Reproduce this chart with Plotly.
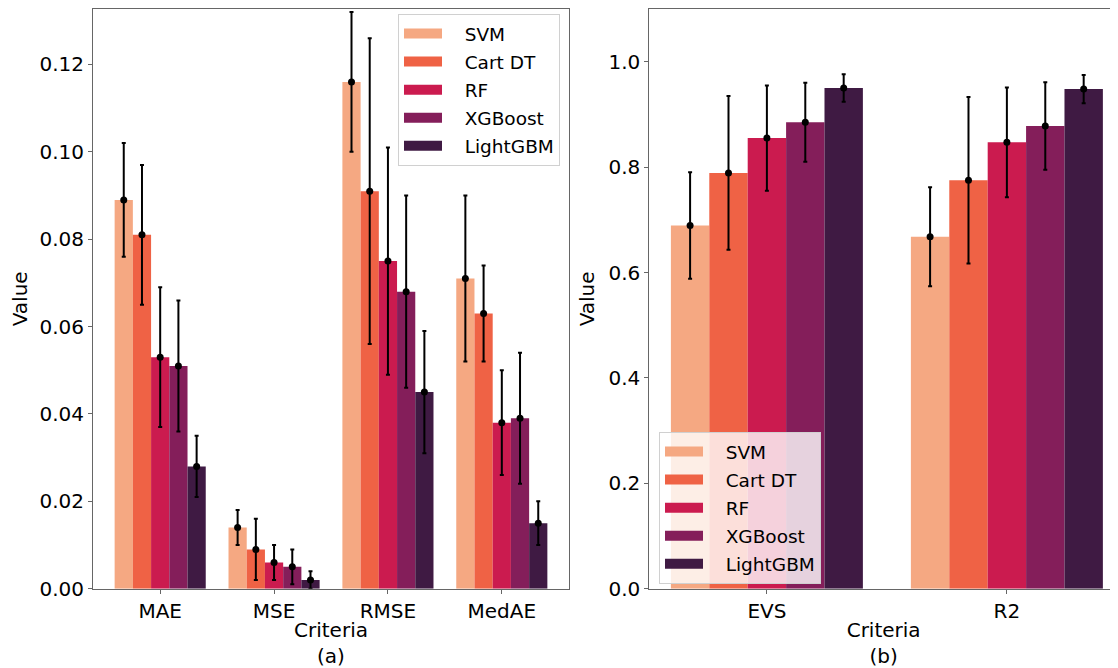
import plotly.graph_objects as go

# ---------------- data ----------------
models = ["SVM", "Cart DT", "RF", "XGBoost", "LightGBM"]
colors = ["#F5A882", "#EF6245", "#CB1B4F", "#841E5A", "#3F1A43"]

criteria_a = ["MAE", "MSE", "RMSE", "MedAE"]
svm_a = [0.089, 0.014, 0.116, 0.071]
cart_a = [0.081, 0.009, 0.091, 0.063]
rf_a = [0.053, 0.006, 0.075, 0.038]
xgb_a = [0.051, 0.005, 0.068, 0.039]
lgbm_a = [0.028, 0.002, 0.045, 0.015]
svm_a_err = [0.013, 0.004, 0.016, 0.019]
cart_a_err = [0.016, 0.007, 0.035, 0.011]
rf_a_err = [0.016, 0.004, 0.026, 0.012]
xgb_a_err = [0.015, 0.004, 0.022, 0.015]
lgbm_a_err = [0.007, 0.002, 0.014, 0.005]

criteria_b = ["EVS", "R2"]
svm_b = [0.689, 0.668]
cart_b = [0.789, 0.775]
rf_b = [0.855, 0.847]
xgb_b = [0.885, 0.878]
lgbm_b = [0.950, 0.948]
svm_b_err = [0.101, 0.094]
cart_b_err = [0.146, 0.158]
rf_b_err = [0.100, 0.104]
xgb_b_err = [0.075, 0.083]
lgbm_b_err = [0.026, 0.027]

vals_a = [svm_a, cart_a, rf_a, xgb_a, lgbm_a]
errs_a = [svm_a_err, cart_a_err, rf_a_err, xgb_a_err, lgbm_a_err]
vals_b = [svm_b, cart_b, rf_b, xgb_b, lgbm_b]
errs_b = [svm_b_err, cart_b_err, rf_b_err, xgb_b_err, lgbm_b_err]

BAR_W = 0.16
FONT = "DejaVu Sans"

# page body has an 8px default margin: size the figure so it ends at the window edge
OFF = 8
W, H = 1118 - OFF, 668 - OFF


def fx(px):
    return (px - OFF) / W


def fy(py):
    return (H - (py - OFF)) / H


fig = go.Figure()


def add_panel(cats, vals, errs, xa, ya, legend):
    idx = list(range(len(cats)))
    n = len(models)
    for j, (m, c) in enumerate(zip(models, colors)):
        fig.add_trace(go.Bar(
            x=idx, y=vals[j], width=BAR_W, offset=(j - n / 2) * BAR_W,
            name=m, marker=dict(color=c, line=dict(width=0)),
            xaxis=xa, yaxis=ya, showlegend=False,
        ))
    for j, m in enumerate(models):
        fig.add_trace(go.Scatter(
            x=[i + (j - (n - 1) / 2) * BAR_W for i in idx], y=vals[j],
            mode="markers", marker=dict(color="black", size=7),
            error_y=dict(type="data", array=errs[j], color="black",
                         thickness=2, width=2),
            showlegend=False, xaxis=xa, yaxis=ya, hoverinfo="skip",
        ))
    # legend entries drawn as wide rectangular patches
    for m, c in zip(models, colors):
        fig.add_trace(go.Scatter(
            x=[None], y=[None], mode="lines", name="\u00a0\u00a0\u00a0" + m,
            line=dict(color=c, width=13),
            xaxis=xa, yaxis=ya, legend=legend, legendgroup=legend + m,
        ))


add_panel(criteria_a, vals_a, errs_a, "x", "y", "legend")
add_panel(criteria_b, vals_b, errs_b, "x2", "y2", "legend2")

axis_common = dict(showline=True, linecolor="#666", linewidth=1,
                   ticks="outside", ticklen=4, tickcolor="#666",
                   showgrid=False, zeroline=False, automargin=False,
                   tickfont=dict(size=20, color="black", family=FONT))

legend_common = dict(font=dict(size=18.5, color="black", family=FONT),
                     bgcolor="rgba(255,255,255,0.8)", bordercolor="#d0d0d0",
                     borderwidth=1, tracegroupgap=1, itemwidth=38)

fig.update_layout(
    width=W, height=H,
    margin=dict(l=0, r=0, t=0, b=0, autoexpand=False),
    paper_bgcolor="white", plot_bgcolor="white",
    font=dict(family=FONT, color="black"),
    barmode="overlay",
    xaxis=dict(domain=[fx(93), fx(569)], range=[-0.59, 3.59],
               tickvals=list(range(len(criteria_a))), ticktext=criteria_a,
               mirror=True, anchor="y",
               title=dict(text="Criteria<br>(a)", font=dict(size=20), standoff=4),
               **axis_common),
    yaxis=dict(domain=[fy(588.7), fy(9)], range=[0, 0.1327],
               tickvals=[0, 0.02, 0.04, 0.06, 0.08, 0.10, 0.12], tickformat=".2f",
               mirror=True, anchor="x",
               title=dict(text="Value", font=dict(size=20), standoff=8),
               **axis_common),
    xaxis2=dict(domain=[fx(649.3), 1.0], range=[-0.49, 1.463],
                tickvals=list(range(len(criteria_b))), ticktext=criteria_b,
                mirror=True, anchor="y2",
                title=dict(text="Criteria<br>(b)", font=dict(size=20), standoff=4),
                **axis_common),
    yaxis2=dict(domain=[fy(588.7), fy(9)], range=[0, 1.1],
                tickvals=[0, 0.2, 0.4, 0.6, 0.8, 1.0], tickformat=".1f",
                mirror=False, anchor="x2",
                title=dict(text="Value", font=dict(size=20), standoff=8),
                **axis_common),
    legend=dict(x=fx(560), xanchor="right", y=fy(14), yanchor="top",
                **legend_common),
    legend2=dict(x=fx(659), xanchor="left", y=fy(584), yanchor="bottom",
                 **legend_common),
)

fig.write_html("out.html")
